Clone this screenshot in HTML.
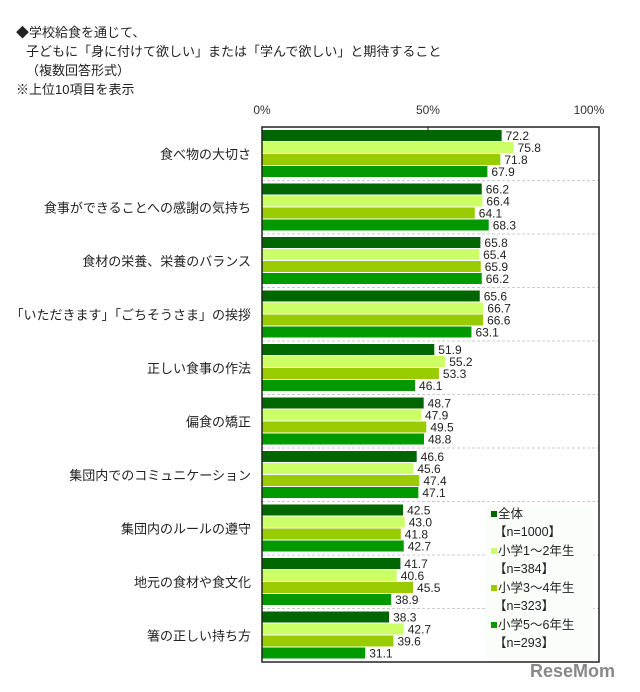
<!DOCTYPE html>
<html><head><meta charset="utf-8"><style>
body{margin:0;background:#fff;font-family:"Liberation Sans","Noto Sans CJK JP",sans-serif;}
#wrap{position:relative;width:640px;height:692px;overflow:hidden;background:#fff}
.t{position:absolute;font-size:13px;color:#222;white-space:nowrap}
</style></head><body><div id="wrap">
<div class="t" style="left:16px;top:22px">◆学校給食を通じて、</div>
<div class="t" style="left:26px;top:41px">子どもに「身に付けて欲しい」または「学んで欲しい」と期待すること</div>
<div class="t" style="left:26px;top:60px">（複数回答形式）</div>
<div class="t" style="left:16px;top:79px">※上位10項目を表示</div>
<svg id="chart" width="640" height="692" style="position:absolute;left:0;top:0"></svg>
</div>
<script>
const categories=["食べ物の大切さ","食事ができることへの感謝の気持ち","食材の栄養、栄養のバランス","「いただきます」「ごちそうさま」の挨拶","正しい食事の作法","偏食の矯正","集団内でのコミュニケーション","集団内のルールの遵守","地元の食材や食文化","箸の正しい持ち方"];
const seriesAll=[72.2,66.2,65.8,65.6,51.9,48.7,46.6,42.5,41.7,38.3];
const seriesG12=[75.8,66.4,65.4,66.7,55.2,47.9,45.6,43.0,40.6,42.7];
const seriesG34=[71.8,64.1,65.9,66.6,53.3,49.5,47.4,41.8,45.5,39.6];
const seriesG56=[67.9,68.3,66.2,63.1,46.1,48.8,47.1,42.7,38.9,31.1];
const seriesNames=["全体","小学1～2年生","小学3～4年生","小学5～6年生"];
const seriesN=["【n=1000】","【n=384】","【n=323】","【n=293】"];
const tickValues=[0,50,100];
const tickLabels=["0%","50%","100%"];
const colors=["#006600","#ccff66","#99cc00","#009900"];
const svg=document.getElementById('chart');const NS='http://www.w3.org/2000/svg';
function mk(t,a,p){const e=document.createElementNS(NS,t);for(const k in a)e.setAttribute(k,a[k]);(p||svg).appendChild(e);return e;}
const L=262,R=599,T=127,B=662;
const x=v=>L+(R-L)*v/100*0.985;
const gh=(B-T)/categories.length;
const series=[seriesAll,seriesG12,seriesG34,seriesG56];
const bh=12;
tickValues.forEach((v,i)=>{
 const t=mk('text',{x:x(v)+(i==2?-5:0),y:114,'font-size':12,fill:'#333','text-anchor':'middle','font-family':'Liberation Sans, sans-serif'});t.textContent=tickLabels[i];
 
});
categories.forEach((c,i)=>{
 const y0=T+i*gh+3;
 if(i>0){const g=mk('line',{x1:L,x2:R,y1:T+i*gh,y2:T+i*gh,stroke:'#ccc','stroke-dasharray':'3,2'});}
 const lb=mk('text',{x:251,y:y0+bh*2+5,'font-size':13,fill:'#222','text-anchor':'end','font-family':'Liberation Sans, Noto Sans CJK JP, sans-serif'});lb.textContent=c;
 
 series.forEach((s,j)=>{
  const r=mk('rect',{x:L,y:y0+j*bh,width:x(s[i])-L,height:bh-1,fill:colors[j]});
  
  const v=mk('text',{x:x(s[i])+4,y:y0+j*bh+10,'font-size':12,fill:'#222','font-family':'Liberation Sans, sans-serif'});v.textContent=s[i].toFixed(1);
  
 });
});
const ax=mk('rect',{x:L,y:T,width:R-L,height:B-T,fill:'none',stroke:'#222','stroke-width':1.5});

const tk=mk('line',{x1:x(50),x2:x(50),y1:T,y2:T+4,stroke:'#222'});
const lg=mk('rect',{x:485,y:508,width:108,height:150,fill:'#fbfdf8'});
seriesNames.forEach((n,j)=>{
 const yy=518+j*37;
 const sq=mk('rect',{x:491,y:yy-7,width:6,height:6,fill:colors[j]});
 const t=mk('text',{x:498,y:yy,'font-size':12.5,fill:'#222','font-family':'Liberation Sans, Noto Sans CJK JP, sans-serif'});t.textContent=n;
 
 const t2=mk('text',{x:494,y:yy+18,'font-size':12.5,fill:'#222','font-family':'Liberation Sans, Noto Sans CJK JP, sans-serif'});t2.textContent=seriesN[j];
 
});
const lo=mk('text',{x:530,y:677,'font-size':18,'font-weight':'bold',fill:'#888','font-family':'Liberation Sans, sans-serif'});lo.textContent='ReseMom';

</script></body></html>
